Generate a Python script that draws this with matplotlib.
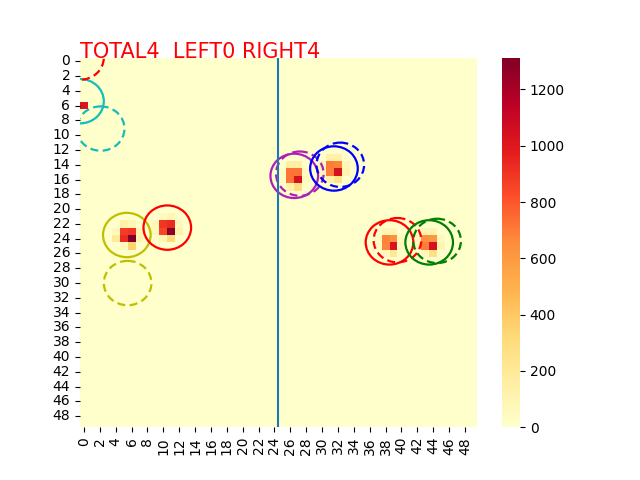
import numpy as np
import matplotlib
matplotlib.use("Agg")
import matplotlib.pyplot as plt
from matplotlib.patches import Circle
import seaborn as sns

grid_size = 50
title_text = "TOTAL4  LEFT0 RIGHT4"
divider_x = 25
radius = 3

# (column, row, value)
cells_a = [(0, 6, 1020)]
cells_b = [(5,23,880),(6,23,900),(5,24,930),(6,24,1313),(5,22,130),(6,22,90),(4,23,70),(4,24,190),(7,23,90),(7,24,110),(6,25,350),(5,25,60)]
cells_c = [(10,22,900),(11,22,930),(10,23,850),(11,23,1280),(10,21,60),(11,21,90),(9,22,70),(9,23,70),(12,22,70),(12,23,120),(10,24,90),(11,24,310)]
cells_d = [(26,15,720),(27,15,720),(26,16,720),(27,16,1040),(26,14,150),(27,14,150),(26,17,120),(27,17,290),(25,15,40),(25,16,40),(28,15,50),(28,16,60)]
cells_e = [(31,14,700),(32,14,680),(31,15,690),(32,15,1040),(31,13,130),(32,13,130),(30,14,70),(30,15,70),(33,14,80),(33,15,110),(31,16,130),(32,16,250)]
cells_f = [(38,24,680),(39,24,640),(38,25,680),(39,25,1030),(40,24,60),(40,25,70),(39,26,210),(38,26,60),(38,23,90),(39,23,90),(37,24,50),(37,25,50)]
cells_g = [(43,24,640),(44,24,620),(43,25,700),(44,25,1040),(43,23,110),(44,23,110),(42,24,60),(42,25,60),(45,24,70),(45,25,100),(44,26,270),(43,26,70)]
all_cells = [cells_a, cells_b, cells_c, cells_d, cells_e, cells_f, cells_g]

# circle centres, colours and line styles
circle_x = [0, 2.6, 0, 5.9, 6.0, 11, 27, 27.7, 32, 32.8, 39, 40, 44, 45]
circle_y = [5.9, 9.6, 0, 24, 30.5, 23, 16, 15.7, 15, 14.5, 25, 24.7, 25, 24.8]
circle_c = ['#14bdb8', '#14bdb8', 'r', 'y', 'y', 'r', '#ae1fb5', '#ae1fb5', 'b', 'b', 'r', 'r', 'g', 'g']
dash = (0, (3.6, 2.0))
circle_s = ['-', dash, dash, '-', dash, '-', '-', dash, '-', dash, '-', dash, '-', dash]

data = np.zeros((grid_size, grid_size))
for group in all_cells:
    for col, row, val in group:
        data[row, col] = val

fig, ax = plt.subplots(figsize=(6.4, 4.8), dpi=100)
sns.heatmap(data, ax=ax, cmap="YlOrRd", vmin=0, vmax=1313)
for x, y, c, s in zip(circle_x, circle_y, circle_c, circle_s):
    ax.add_patch(Circle((x, y), radius, color=c, fill=False, linestyle=s, linewidth=1.6))
ax.axvline(divider_x)
ax.text(0, 0.998, title_text, transform=ax.transAxes, ha="left", va="baseline",
        color="red", fontsize=15)
fig.savefig("out.png", dpi=100)
